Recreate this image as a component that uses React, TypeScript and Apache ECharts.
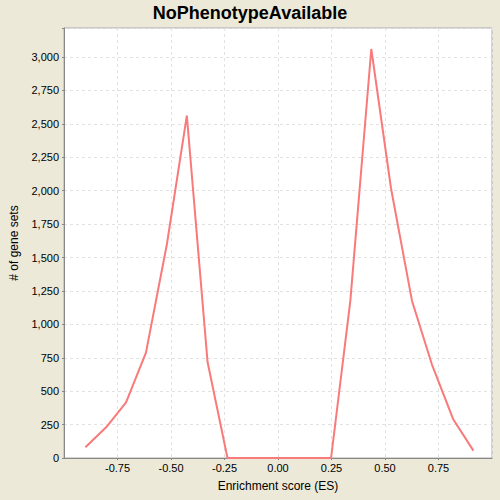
import React, { useEffect, useRef } from "react";
import * as echarts from "echarts";

const esValues = [
  -0.9, -0.803, -0.71, -0.617, -0.519, -0.426, -0.329, -0.236, -0.14, -0.045,
  0.05, 0.15, 0.248, 0.338, 0.436, 0.528, 0.626, 0.719, 0.818, 0.913,
];
const geneSetCounts = [
  80, 230, 417, 788, 1601, 2561, 716, 0, 0, 0,
  0, 0, 0, 1175, 3060, 2018, 1177, 701, 292, 55,
];
const titleText = "NoPhenotypeAvailable";
const xAxisTitle = "Enrichment score (ES)";
const yAxisTitle = "# of gene sets";

const FONT = "'Liberation Sans', Arial, sans-serif";

export default function App() {
  const ref = useRef<HTMLDivElement>(null);
  useEffect(() => {
    if (!ref.current) return;
    const chart = echarts.init(ref.current, undefined, { renderer: "svg" });
    const data = esValues.map((x, i) => [x, geneSetCounts[i]]);
    chart.setOption({
      animation: false,
      backgroundColor: "#ECE9D8",
      title: {
        text: titleText,
        left: "center",
        top: -1,
        textStyle: { fontFamily: FONT, fontWeight: "bold", fontSize: 18, color: "#000" },
      },
      grid: {
        left: 63,
        right: 8,
        top: 28,
        bottom: 42,
        show: true,
        backgroundColor: "#fff",
        borderColor: "#aaaaaa",
        borderWidth: 1,
      },
      xAxis: {
        type: "value",
        min: -1,
        max: 1,
        interval: 0.25,
        name: xAxisTitle,
        nameLocation: "middle",
        nameGap: 22,
        nameTextStyle: { fontFamily: FONT, fontSize: 12, color: "#000" },
        axisLine: { show: true, onZero: false, lineStyle: { color: "#888", width: 1 } },
        axisTick: { show: true, length: 2, lineStyle: { color: "#888" } },
        axisLabel: {
          fontFamily: FONT,
          fontSize: 11,
          color: "#000",
          margin: 4,
          showMinLabel: false,
          showMaxLabel: false,
          formatter: (v: number) => v.toFixed(2),
        },
        splitLine: { show: true, lineStyle: { color: "#e2e2e2", type: [3, 3] } },
      },
      yAxis: {
        type: "value",
        min: 0,
        max: 3217,
        interval: 250,
        name: yAxisTitle,
        nameLocation: "middle",
        nameGap: 44,
        nameTextStyle: { fontFamily: FONT, fontSize: 12, color: "#000" },
        axisLine: { show: true, onZero: false, lineStyle: { color: "#888", width: 1 } },
        axisTick: { show: true, length: 2, lineStyle: { color: "#888" } },
        axisLabel: {
          fontFamily: FONT,
          fontSize: 11,
          color: "#000",
          margin: 5,
          formatter: (v: number) => (v % 250 === 0 ? v.toLocaleString("en-US") : ""),
        },
        splitLine: { show: true, lineStyle: { color: "#e2e2e2", type: [3, 3] } },
      },
      series: [
        {
          type: "line",
          data,
          showSymbol: false,
          lineStyle: { color: "#F87A7A", width: 2 },
          itemStyle: { color: "#F87A7A" },
        },
      ],
    });
    return () => chart.dispose();
  }, []);
  return (
    <div
      ref={ref}
      style={{ position: "fixed", left: 0, top: 0, width: 500, height: 500 }}
    />
  );
}
